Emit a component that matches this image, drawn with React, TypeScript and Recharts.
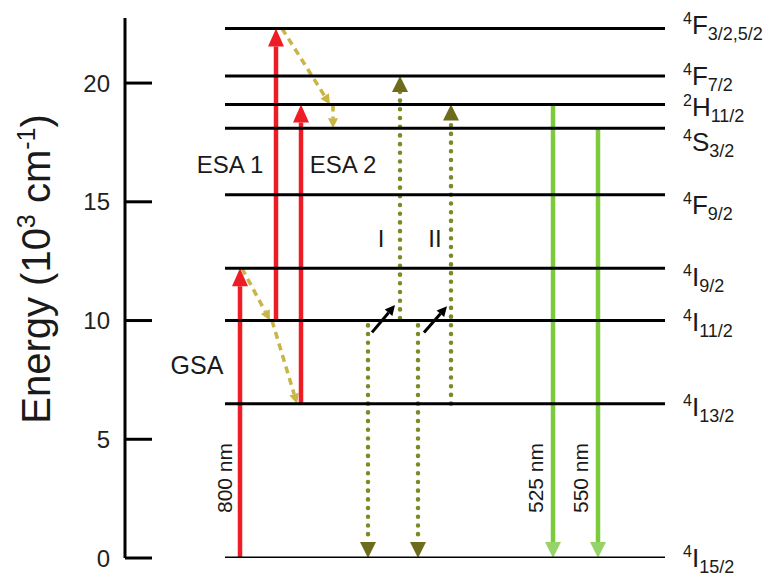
import React from "react";
import {
  LineChart,
  Line,
  XAxis,
  YAxis,
  ReferenceLine,
  ReferenceDot,
} from "recharts";

const FONT = "'Liberation Sans', Arial, Helvetica, sans-serif";

// energies in 10^3 cm^-1
const energyTicks = [0, 5, 10, 15, 20];
const levelEnergy = [22.3, 20.3, 19.1, 18.1, 15.3, 12.2, 10.0, 6.5, 0];
const levelMult = ["4", "4", "2", "4", "4", "4", "4", "4", "4"];
const levelTerm = ["F", "F", "H", "S", "F", "I", "I", "I", "I"];
const levelJ = ["3/2,5/2", "7/2", "11/2", "3/2", "9/2", "9/2", "11/2", "13/2", "15/2"];
// small vertical nudges (px) so the term symbols don't collide
const labelDy = [-3, 0, 3, 14, 10, 9, 1, 3, 0];

// x = column in the diagram (0 = energy axis)
const pump = [
  { x: 115, from: 0, to: 12.2 },
  { x: 151, from: 10.0, to: 22.3 },
  { x: 176, from: 6.5, to: 19.1 },
];
const relax = [
  { x1: 117, e1: 12.2, x2: 145, e2: 10.0 },
  { x1: 147, e1: 10.0, x2: 172, e2: 6.5 },
  { x1: 157, e1: 22.3, x2: 205, e2: 19.1 },
  { x1: 208, e1: 19.1, x2: 208, e2: 18.1 },
];
const transferUp = [
  { x: 275, from: 10.1, to: 20.3 },
  { x: 326, from: 6.5, to: 19.1 },
];
const transferDown = [
  { x: 243, from: 9.8, to: 0 },
  { x: 293, from: 9.8, to: 0 },
];
const transferKick = [
  { x1: 247, e1: 9.5, x2: 270, e2: 10.65 },
  { x1: 299, e1: 9.5, x2: 322, e2: 10.6 },
];
const emission = [
  { x: 428, from: 19.1, to: 0 },
  { x: 473, from: 18.1, to: 0 },
];
const emissionNm = ["525 nm", "550 nm"];

const arrow =
  (color: string, width: number, len: number, half: number, dash?: string, head?: string) =>
  (p: any) => {
    const { x1, y1, x2, y2 } = p;
    const dx = x2 - x1;
    const dy = y2 - y1;
    const d = Math.hypot(dx, dy) || 1;
    const ux = dx / d;
    const uy = dy / d;
    const bx = x2 - ux * len;
    const by = y2 - uy * len;
    const nx = -uy * half;
    const ny = ux * half;
    return (
      <g>
        <line
          x1={x1}
          y1={y1}
          x2={bx}
          y2={by}
          stroke={color}
          strokeWidth={width}
          strokeDasharray={dash}
          strokeLinecap={dash && dash.startsWith("0") ? "round" : "butt"}
        />
        <polygon
          points={`${x2},${y2} ${bx + nx},${by + ny} ${bx - nx},${by - ny}`}
          fill={head || color}
        />
      </g>
    );
  };

const redArrow = arrow("#ee1c25", 4.5, 18, 8);
const greenArrow = arrow("#7ccb3f", 4.5, 16, 8, undefined, "#98d36a");
const oliveArrow = arrow("#7c8a26", 4.5, 16, 8, "0.1 8.6", "#6c6c1c");
const mustardArrow = arrow("#c9b445", 3.5, 10, 5, "7 5");
const blackArrow = arrow("#000", 3, 10, 5);

const note = (text: string, rotate = false, size = 24) => (p: any) => (
  <text
    x={p.cx}
    y={p.cy}
    textAnchor="middle"
    dominantBaseline="central"
    fontFamily={FONT}
    fontSize={size}
    fill="#1a1a1a"
    transform={rotate ? `rotate(-90 ${p.cx} ${p.cy})` : undefined}
  >
    {text}
  </text>
);

const levelLabel = (i: number) => (p: any) => (
  <text x={p.cx} y={p.cy + 9 + labelDy[i]} fontFamily={FONT} fontSize={26} fill="#1a1a1a">
    <tspan fontSize={16} dy={-10}>
      {levelMult[i]}
    </tspan>
    <tspan dy={10}>{levelTerm[i]}</tspan>
    <tspan fontSize={18} dy={6}>
      {levelJ[i]}
    </tspan>
  </text>
);

const yLabel = (props: any) => {
  const vb = props.viewBox || { y: 18, height: 540 };
  const cx = 50;
  const cy = vb.y + vb.height / 2 - 19;
  return (
    <text
      x={cx}
      y={cy}
      textAnchor="middle"
      fontFamily={FONT}
      fontSize={40}
      fill="#1a1a1a"
      transform={`rotate(-90 ${cx} ${cy})`}
    >
      Energy (10
      <tspan fontSize={25} dy={-15}>
        3
      </tspan>
      <tspan dy={15}> cm</tspan>
      <tspan fontSize={25} dy={-15}>
        -1
      </tspan>
      <tspan dy={15}>)</tspan>
    </text>
  );
};

export default function App() {
  return (
    <div style={{ position: "absolute", left: 0, top: 0, background: "#fff" }}>
      <LineChart width={764} height={580} margin={{ top: 18, right: 0, bottom: 22, left: 65 }}>
        <XAxis type="number" dataKey="x" domain={[0, 639]} hide allowDataOverflow />
        <YAxis
          type="number"
          domain={[0, 22.74]}
          ticks={energyTicks}
          allowDataOverflow
          width={60}
          axisLine={{ stroke: "#000", strokeWidth: 3 }}
          tickLine={false}
          tickSize={0}
          tickMargin={15}
          tick={{ fontSize: 24, fill: "#222", fontFamily: FONT }}
          label={yLabel}
        />
        {energyTicks.map((v) => (
          <ReferenceLine
            key={`t${v}`}
            segment={[
              { x: 0, y: v },
              { x: 27, y: v },
            ]}
            stroke="#000"
            strokeWidth={3}
            ifOverflow="visible"
          />
        ))}

        {pump.map((t, i) => (
          <ReferenceLine
            key={`p${i}`}
            segment={[
              { x: t.x, y: t.from },
              { x: t.x, y: t.to },
            ]}
            shape={redArrow}
            ifOverflow="visible"
          />
        ))}
        {relax.map((t, i) => (
          <ReferenceLine
            key={`r${i}`}
            segment={[
              { x: t.x1, y: t.e1 },
              { x: t.x2, y: t.e2 },
            ]}
            shape={mustardArrow}
            ifOverflow="visible"
          />
        ))}
        {transferUp.concat(transferDown).map((t, i) => (
          <ReferenceLine
            key={`o${i}`}
            segment={[
              { x: t.x, y: t.from },
              { x: t.x, y: t.to },
            ]}
            shape={oliveArrow}
            ifOverflow="visible"
          />
        ))}
        {transferKick.map((t, i) => (
          <ReferenceLine
            key={`k${i}`}
            segment={[
              { x: t.x1, y: t.e1 },
              { x: t.x2, y: t.e2 },
            ]}
            shape={blackArrow}
            ifOverflow="visible"
          />
        ))}
        {emission.map((t, i) => (
          <ReferenceLine
            key={`g${i}`}
            segment={[
              { x: t.x, y: t.from },
              { x: t.x, y: t.to },
            ]}
            shape={greenArrow}
            ifOverflow="visible"
          />
        ))}

        {levelEnergy.map((e, i) => (
          <Line
            key={`l${i}`}
            data={[
              { x: 100, e },
              { x: 540, e },
            ]}
            dataKey="e"
            stroke="#000"
            strokeWidth={3}
            dot={false}
            isAnimationActive={false}
          />
        ))}
        {levelEnergy.map((e, i) => (
          <ReferenceDot
            key={`ll${i}`}
            x={558}
            y={e}
            r={0}
            ifOverflow="visible"
            shape={levelLabel(i)}
          />
        ))}

        <ReferenceDot x={72} y={8.13} r={0} ifOverflow="visible" shape={note("GSA", false, 25)} />
        <ReferenceDot x={105} y={16.55} r={0} ifOverflow="visible" shape={note("ESA 1")} />
        <ReferenceDot x={218} y={16.55} r={0} ifOverflow="visible" shape={note("ESA 2")} />
        <ReferenceDot x={256} y={13.47} r={0} ifOverflow="visible" shape={note("I")} />
        <ReferenceDot x={310} y={13.47} r={0} ifOverflow="visible" shape={note("II")} />
        <ReferenceDot x={100} y={3.37} r={0} ifOverflow="visible" shape={note("800 nm", true, 21)} />
        {emission.map((t, i) => (
          <ReferenceDot
            key={`n${i}`}
            x={t.x - 17}
            y={3.37}
            r={0}
            ifOverflow="visible"
            shape={note(emissionNm[i], true, 21)}
          />
        ))}
      </LineChart>
    </div>
  );
}
